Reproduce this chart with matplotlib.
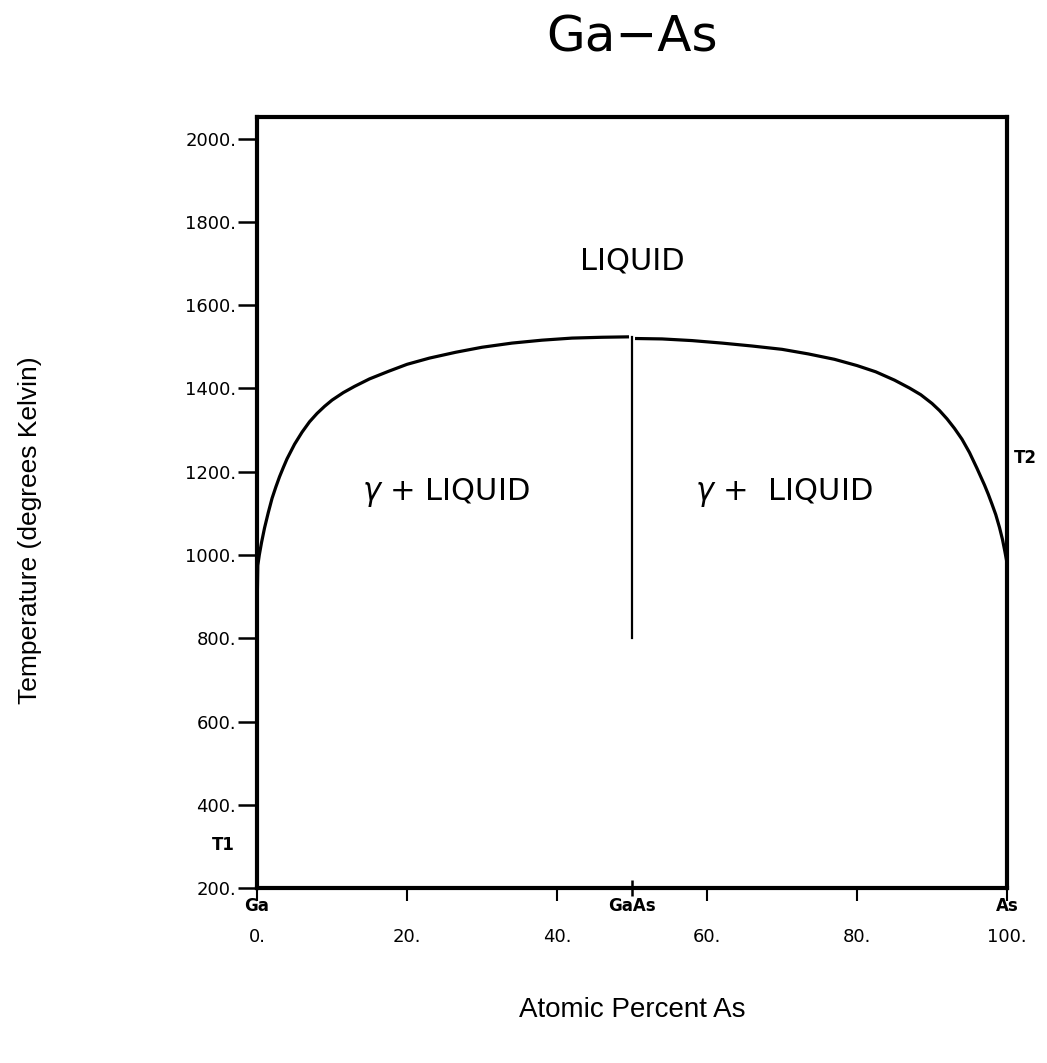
import matplotlib
matplotlib.use('Agg')
import matplotlib.pyplot as plt
import matplotlib.transforms as mtransforms

# Liquidus, Ga side (atomic % As, K)
ga_side_x = [0.0, 0.1, 0.3, 0.6, 1.0, 1.5, 2.0, 2.5, 3.0, 3.5, 4.0, 5.0, 6.0,
             7.0, 8.0, 9.0, 10.0, 11.5, 13.0, 15.0, 17.5, 20.0, 23.0, 26.5,
             30.0, 34.0, 38.0, 42.0, 46.0, 49.6]
ga_side_t = [860, 975, 1000, 1030, 1065, 1102, 1136, 1163, 1188, 1210, 1231,
             1266, 1295, 1320, 1340, 1357, 1372, 1390, 1405, 1423, 1441, 1458,
             1473, 1487, 1499, 1509, 1516, 1521, 1523, 1524]

# Liquidus, As side
as_side_x = [50.4, 54.0, 58.0, 62.0, 66.0, 70.0, 73.5, 77.0, 80.0, 82.5, 85.0,
             87.0, 88.5, 90.0, 91.0, 92.0, 93.0, 94.0, 95.0, 96.0, 96.5, 97.0,
             97.5, 98.0, 98.5, 99.0, 99.4, 99.7, 100.0, 100.0]
as_side_t = [1520, 1519, 1515, 1509, 1502, 1494, 1483, 1470, 1455, 1440, 1420,
             1401, 1385, 1364, 1347, 1327, 1304, 1278, 1246, 1208, 1188, 1168,
             1146, 1122, 1097, 1066, 1037, 1010, 981, 820]

# GaAs compound line
gaas_x = [50, 50]
gaas_t = [1524, 800]

x_ticks = [0, 20, 40, 60, 80, 100]
x_tick_labels = ['0.', '20.', '40.', '60.', '80.', '100.']
y_ticks = [200, 400, 600, 800, 1000, 1200, 1400, 1600, 1800, 2000]
y_tick_labels = [f'{v}.' for v in y_ticks]
element_pos = [0, 50, 100]
element_labels = ['Ga', 'GaAs', 'As']

narrow = ['Liberation Sans Narrow', 'Liberation Sans', 'DejaVu Sans']

fig = plt.figure(figsize=(10.47, 10.63), dpi=100)
ax = fig.add_axes([0.2455, 0.1646, 0.7163, 0.7253])

ax.plot(ga_side_x, ga_side_t, color='black', lw=2.3, solid_capstyle='butt')
ax.plot(as_side_x, as_side_t, color='black', lw=2.3, solid_capstyle='butt')
ax.plot(gaas_x, gaas_t, color='black', lw=1.6)

ax.set_xlim(0, 100)
ax.set_ylim(200, 2052)

for s in ax.spines.values():
    s.set_linewidth(3.0)

ax.set_xticks(x_ticks)
ax.set_xticklabels(x_tick_labels, fontsize=13)
ax.set_xticks([50], minor=True)
ax.tick_params(axis='x', which='major', direction='out', length=9, width=1.5, pad=20)
ax.tick_params(axis='x', which='minor', direction='inout', length=12, width=1.8)
ax.set_yticks(y_ticks)
ax.set_yticklabels(y_tick_labels, fontsize=13)
ax.tick_params(axis='y', direction='out', length=14, width=1.8, pad=1)

trans = mtransforms.blended_transform_factory(ax.transData, ax.transAxes)
for xp, lab in zip(element_pos, element_labels):
    ax.text(xp, -0.012, lab, transform=trans, ha='center', va='top',
            fontsize=12, fontweight='bold')

ax.text(-0.045, 0.056, 'T1', transform=ax.transAxes, ha='center', va='center',
        fontsize=12, fontweight='bold')
ax.text(1.025, 0.558, 'T2', transform=ax.transAxes, ha='center', va='center',
        fontsize=12, fontweight='bold')

ax.text(50, 1705, 'LIQUID', ha='center', va='center', fontsize=22)
ax.text(25.2, 1150, r'$\gamma$ + LIQUID', ha='center', va='center', fontsize=22)
ax.text(70.2, 1150, r'$\gamma$ +  LIQUID', ha='center', va='center', fontsize=22)

fig.text(632 / 1047, 1 - 52 / 1063, 'Ga\u2212As', ha='center', va='baseline', fontsize=36)
fig.text(632 / 1047, 1 - 1010 / 1063, 'Atomic Percent As', ha='center', va='center',
         fontsize=20, family=narrow)
fig.text(30 / 1047, 1 - 530 / 1063, 'Temperature (degrees Kelvin)', rotation=90,
         ha='center', va='center', fontsize=19, family=narrow)

plt.savefig('out.png', dpi=100)
